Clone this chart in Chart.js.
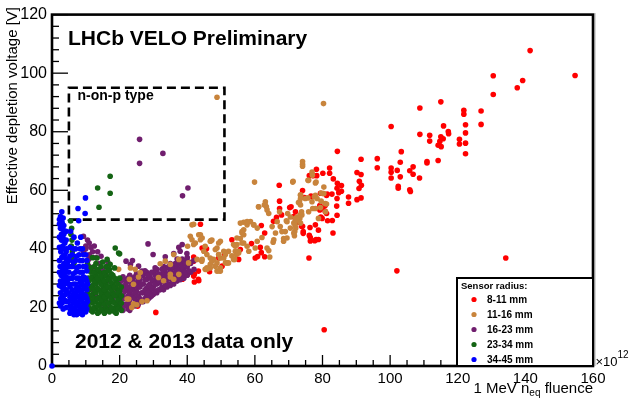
<!DOCTYPE html>
<html><head><meta charset="utf-8">
<script src="https://cdn.jsdelivr.net/npm/chart.js@4"></script>
<style>html,body{margin:0;padding:0;background:#fff}#wrap{width:630px;height:398px;position:relative}</style>
</head><body><div id="wrap"><canvas id="c" width="630" height="398"></canvas></div>
<script>
// ---------- DATA (fluence in 1e12, depletion voltage in V) ----------
const seriesLabels = ['8-11 mm','11-16 mm','16-23 mm','23-34 mm','34-45 mm'];
const legendTitle = 'Sensor radius:';
const xTickValues = [0,20,40,60,80,100,120,140,160];
const yTickValues = [0,20,40,60,80,100,120];

const radius8to11 = [
[141.4,107.7],[154.7,99.2],[130.5,99.1],[139.2,97.5],[137.6,95.0],[130.5,92.7],[115.0,90.2],[108.8,88.1],[121.8,87.3],[121.8,86.0],[126.9,87.1],[122.3,82.4],[126.9,82.5],[115.8,82.0],[117.2,80.1],[117.3,79.3],[122.3,79.6],[108.8,79.1],[111.7,78.8],[111.7,76.8],[115.0,78.3],[115.7,77.6],[114.7,76.7],[114.2,75.4],[115.1,74.9],[120.5,77.4],[120.5,75.8],[122.3,76.1],[122.3,72.5],[103.3,73.2],[103.0,69.6],[106.8,68.0],[110.9,69.8],[110.9,69.3],[114.2,70.2],[105.8,66.7],
[100.3,81.8],[84.4,73.3],[91.4,70.6],[96.2,70.8],[96.2,67.7],[100.3,67.6],[100.3,66.2],[100.3,64.2],[102.1,66.8],[103.0,64.6],[106.8,65.5],[108.7,64.2],[102.4,61.4],[102.4,60.7],[105.8,60.2],[106.0,59.6],[90.2,66.1],[91.4,65.4],[90.9,63.1],[91.5,61.7],[90.8,60.6],[91.4,57.4],[90.2,56.8],[87.7,57.7],[87.7,55.6],[82.1,67.6],[82.1,65.8],[78.2,67.2],[80.1,65.8],[76.1,65.0],[77.2,65.0],[78.3,65.0],[83.2,63.9],[84.4,62.4],[85.6,61.6],[84.3,60.7],[85.6,59.7],[84.8,59.2],[74.1,59.9],[82.8,58.7],[81.2,58.2],[84.3,57.2],[76.9,57.7],[79.2,54.8],[80.8,54.8],[79.2,53.3],[80.1,54.0],[84.2,54.6],[84.3,51.5],[81.2,52.1],[80.8,52.8],[79.9,50.4],[82.9,49.7],[77.9,48.2],[78.8,46.4],[76.3,47.3],[74.1,47.7],[74.3,45.9],[74.3,45.3],[76.1,44.6],[76.4,43.9],[78.1,43.2],[78.8,43.2],[83.1,45.4],[70.7,54.4],[72.0,52.7],[71.5,51.0],[72.5,49.0],
[134.2,36.9],[102.0,32.5],[80.5,12.4],
[67.2,61.7],[67.3,56.3],[74.7,57.5],[76.6,58.0],[79.4,59.0],[81.4,58.7],[70.3,54.1],[73.8,47.7],[79.5,50.9],[81.5,49.6],[77.7,42.8],[76.4,42.7],[76.0,36.9],[66.4,50.8],[65.5,49.4],[61.9,48.0],[62.9,45.4],[61.6,40.5],[61.9,38.7],[62.9,37.3],[60.8,37.4],[59.0,41.8],[43.9,48.4],[44.4,40.3],[45.7,40.0],[46.6,32.2],[45.1,39.2],[41.9,37.2],[41.9,35.8],[39.4,31.9],[40.1,31.3],[42.1,31.3],[43.4,29.1],[42.1,28.7],[38.6,29.6],[51.1,38.6],[51.1,38.1],[30.7,18.3],[25.3,20.4],[43.3,32.4],[41.9,30.7],[43.3,29.6],[67.3,53.8],[67.9,51.6],[60.1,36.9],
[53.2,43.1],[55.7,39.8],[55.2,36.4],[49.3,36.9],[50.3,34.1]
];

const radius11to16 = [
[48.8,91.8],[80.3,89.6],[59.9,62.8],[71.3,63.1],
[74.1,69.8],[74.1,68.9],[74.1,68.2],[76.9,66.2],[77.0,65.1],[75.9,63.4],[77.9,62.5],[80.4,61.1],[73.5,58.5],[79.6,59.1],[80.4,58.9],[75.7,57.4],[77.6,57.8],[73.2,56.1],[77.1,53.8],[79.6,56.3],[80.8,55.5],[73.8,52.7],[73.4,51.6],[73.3,50.4],[72.4,49.9],[71.9,49.3],[71.5,48.8],[72.1,47.1],[71.7,44.5],
[71.2,62.8],[75.7,63.4],[78.1,62.8],[73.5,58.3],[73.5,57.2],[72.9,55.8],[77.9,58.3],[80.2,58.9],[81.2,55.3],[79.4,54.1],[80.9,52.7],[78.8,50.4],[63.1,56.1],[62.8,55.0],[63.4,54.4],[61.1,54.4],[64.1,52.1],[69.7,52.1],[70.5,50.9],[69.3,49.6],[72.5,50.9],[71.9,48.2],[69.0,45.9],[68.0,45.9],[71.8,45.9],[66.1,45.4],[65.4,42.3],[68.5,43.5],[63.6,40.3],[64.1,39.4],[64.4,37.2],[56.7,49.1],[57.7,48.2],[58.7,49.3],[59.7,48.2],[60.7,47.1],[56.2,45.9],[56.7,44.8],[55.7,43.5],[56.7,42.0],[57.7,40.9],[58.2,39.2],[54.7,41.5],[54.2,39.2],[54.5,38.1],[54.0,36.4],[60.7,42.6],[60.1,40.3],[62.1,43.9],[49.8,42.6],[48.8,40.3],[50.8,39.2],[49.8,36.9],[51.3,35.2],[47.3,43.0],[44.9,39.2],[45.8,38.1],[44.3,35.8],[47.8,36.4],[46.8,34.7],[48.3,34.1],[45.8,33.5],[45.3,33.0],
[41.9,48.4],[40.9,44.3],[43.4,44.8],[43.9,43.1],[42.4,42.0],[40.1,40.9],[52.2,39.2],[50.8,36.9],[49.3,38.1],[47.3,35.8],[46.8,33.5],[49.8,33.5],[48.8,32.4],[33.5,35.8],[32.0,34.9],[37.5,31.3],[35.0,30.4],[28.1,22.3],[26.6,22.0],[24.1,21.2],[22.7,22.9],[19.7,33.0],[18.4,26.8],[19.2,27.4],[40.4,35.2],[42.9,36.4],
[61.1,54.4],[63.1,55.0],[63.6,53.3],[55.7,48.8],[57.7,49.3],[59.6,48.2],[56.7,46.5],[54.7,43.7],[53.7,41.5],[55.2,39.2],[41.4,48.2],[43.9,44.8],[41.9,41.5],[49.3,38.1],[51.3,38.1],[51.8,35.2],[49.8,32.4],[47.0,42.8],[36.0,38.1],[37.5,36.4],[35.0,34.7],[23.2,33.5],[24.6,33.0],[26.1,31.9],[25.6,30.4],[22.9,29.6],[24.1,27.9],[22.2,22.9],[23.6,20.0],[25.1,20.9],[31.5,30.2],[33.0,29.1],[35.0,31.3],[36.0,29.6],
[69.5,43.7],[71.5,45.4],[70.5,47.1],[73.5,48.8],[72.0,50.4],[73.9,51.6],[75.9,52.7],[77.9,53.8],[73.5,55.0],[76.9,56.1],[78.4,57.2],[74.9,57.2],[65.6,43.1],[68.5,42.6],[67.3,52.7],[66.6,49.3],[65.1,47.6],[67.5,47.6],[69.5,49.3],
[41.4,43.1],[44.4,43.7],[46.8,42.6],[49.3,42.0],[45.3,40.9],[48.3,39.8],[51.3,38.6],[46.8,36.9],[44.4,36.4],[48.8,35.2],[52.2,35.2],[45.8,33.0],[49.3,32.5],[53.2,37.6],[54.2,40.9],[56.2,42.0],[56.2,45.4],[55.2,38.6],[53.7,36.4]
];

const radius16to23 = [
[25.9,77.4],[25.9,69.2],[32.8,72.6],[40.2,60.8],[38.6,58.1],
[28.4,41.7],[29.9,38.1],[33.5,37.3],[36.0,38.4],[37.9,39.2],[37.5,40.5],[38.5,41.5],[39.9,38.4],[23.2,34.7],[23.8,36.0],[21.9,35.8],[26.6,32.4],[25.6,34.1],[33.0,31.3],[36.5,31.3],[9.3,44.3],[9.3,39.2],[10.8,36.4],[12.3,33.5],[11,42],[10,41],
[13,24],[14,21],[15,19.5],[16,22],[17,20],[18,23],[19,20],[20,21.5],[19,25],[20,28],[21,19],[21,24],[21,30.5],[22,20.5],[22,26],[22,28.5],[23,19],[23,22.5],[23,25],[23,31],[24,24],[24,26.5],[24,29],[25,22],[25,25.5],[25,28],[25,31.5],[26,23],[26,27],[26,29.5],[27,22],[27,25],[27,28],[27,31],[28,24],[28,26.5],[28,29.5],[28,32],[29,23.5],[29,25.5],[29,28],[29,30.5],[30,24.5],[30,27],[30,29],[30,32],[31,25],[31,28],[31,30],[31,33],[32,26],[32,28.5],[32,31],[33,26],[33,29],[33,32],[33,34],[34,27],[34,29.5],[34,31.5],[35,27.5],[35,30],[35,32.5],[35,35],[36,28],[36,30.5],[36,33.5],[37,29],[37,31],[37,34],[37,36.5],[38,29.5],[38,32],[38,35],[39,30],[39,33],[39,36],[40,31],[40,34],[40,37],[41,32],[41,35],[42,33],[42,36],
[18.5,19],[19.5,22],[20.5,26],[18,27],[17,29],[16,31],[15,33],[14,35],[13,37],[12,39],[11,38],[10,40],[11,34],[12,30],[12,26],[13,28],[14,30],[15,26],[16,26.5],[17,24.5],[18,25.5],
[19.5,21],[19.5,24],[19.5,27],[20.5,20],[20.5,23],[20.5,29],[21.5,21],[21.5,23],[21.5,25.5],[21.5,27.5],[21.5,29.5],[22.5,19.5],[22.5,21.5],[22.5,24],[22.5,27],[22.5,30],[23.5,21],[23.5,23.5],[23.5,26],[23.5,28],[23.5,30],[24.5,20.5],[24.5,23],[24.5,25],[24.5,27.5],[24.5,30.5],[25.5,21],[25.5,24],[25.5,27],[25.5,29],[25.5,30.5],[26.5,22],[26.5,25],[26.5,28],[26.5,31],[27.5,23],[27.5,26],[27.5,29.5],[27.5,32.5],[28.5,23],[28.5,25],[28.5,27.5],[28.5,31],[29.5,24],[29.5,26.5],[29.5,29.5],[29.5,32],[30.5,25.5],[30.5,28],[30.5,31],[30.5,33.5],[31.5,26],[31.5,29],[31.5,31.5],[32.5,27],[32.5,30],[32.5,33],[33.5,27.5],[33.5,30.5],[33.5,33],[34.5,28],[34.5,31],[34.5,34],[35.5,29],[35.5,31.5],[35.5,34],[36.5,29.5],[36.5,32],[36.5,35],[37.5,30],[37.5,33],[37.5,35.5],[38.5,31],[38.5,34],[38.5,36.5],[39.5,32],[39.5,35],[40.5,32.5],[40.5,35.5],
[10.5,43],[11.5,40.5],[12.5,41],[13.5,39],[14.5,37.5],[16.5,35.5]
];

const radius23to34 = [
[13.5,60.8],[17.2,64.8],[17.2,59.0],[13.9,54.2],
[5.5,49.5],[5.8,47],[5.6,45],[5.9,43],[5.7,41],[6,39],[6.2,37],[6.5,35],
[18.7,40.3],[19.7,38.6],[16.3,36.4],[17.2,34.7],[13.3,36.9],[20.0,38.3],[18.5,19.5],
[11,20],[11,23],[11,26],[11,29],[11.5,32],[12,18.5],[12,21.5],[12,24.5],[12,27.5],[12,30.5],[12.5,34],[13,19.5],[13,22],[13,25],[13,28],[13,31],[13,35],[14,18.5],[14,21],[14,23.5],[14,26],[14,29],[14,32],[15,19],[15,22],[15,24.5],[15,27.5],[15,30],[16,20],[16,23],[16,25.5],[16,28],[16,31],[17,18.5],[17,21.5],[17,24],[17,27],[17,30],[17,33],[18,19.5],[18,22],[18,25],[18,28],[18,31],[18.5,33.5],[19,18],[19,21],[19,24],[19,26.5],[19,29],[20,20],[20,23],[20,25.5],[20,30],[20.5,27],[10.5,35],[10.8,30],[10.5,25],[10.5,21],[12,37],[16,34],[15,35.5],
[11.5,19],[11.5,22],[11.5,24],[11.5,27],[11.5,30],[11.5,33.5],[12.5,20],[12.5,23],[12.5,26],[12.5,29],[12.5,32],[13.5,18],[13.5,20.5],[13.5,23],[13.5,26.5],[13.5,30],[13.5,33],[14.5,19.5],[14.5,22.5],[14.5,25],[14.5,28],[14.5,31],[14.5,34],[15.5,18],[15.5,21],[15.5,23.5],[15.5,26],[15.5,29],[15.5,32],[16.5,19],[16.5,21.5],[16.5,24.5],[16.5,27],[16.5,29.5],[16.5,32.5],[17.5,20],[17.5,23],[17.5,26],[17.5,28.5],[17.5,31.5],[18.5,18.5],[18.5,21.5],[18.5,24],[18.5,27],[18.5,30],[19.5,19.5],[19.5,22.5],[19.5,25],[19.5,28],[20.5,19],[20.5,21.5],[20.5,24]
];

const radius34to45 = [
[0,0],[9.9,57.4],[7.7,53.8],[2.9,52.7],[9.8,52.1],[7.9,49.6],
[2.5,51],[3,49],[2.5,47],[3.5,45],[2.8,43],[3.2,41],[2.6,39],[3.8,38],[2.9,37],[3.5,35],[2.4,34],[3.2,33],[4,32],[2.7,31],[3.5,30],[2.5,29],[3.8,28],[2.9,27],[3.4,26],[2.5,25],[4,24.5],[3,24],[2.6,23],[3.7,22.5],[3,21.5],[2.5,20.5],[4.2,20],[3.5,26.5],[4.5,29],[4.5,35],[4.3,40],[3.5,48],[2.8,45],[3.8,42],
[5,36],[5,32],[5,28],[5,25],[5,22],[5.5,19],[6,38],[6,34],[6,30],[6,26],[6,23],[6,20],[6.5,17.5],[7,40],[7,36],[7,32],[7,28],[7,25],[7,22],[7,19],[8,38],[8,34],[8,30],[8,27],[8,24],[8,21],[8,18],[9,40],[9,36],[9,32],[9,29],[9,26],[9,23],[9,20],[9,17.5],[10,38],[10,34],[10,30],[10,27],[10,24],[10,21],[10,18.5],[10.5,28],[10.5,22],[7.5,42],[8.5,44],[6.5,44],[5.5,46],
[2.2,21.5],[2.2,27.5],[2.2,32],[2.2,36],[2.2,40.5],[2.2,44],[2.2,48.5],[2.2,50],[3.3,19.5],[3.3,23],[3.3,28.5],[3.3,31.5],[3.3,34],[3.3,37.5],[3.3,40],[3.3,43.5],[3.3,46.5],[3.3,50.5],[4.2,22],[4.2,26],[4.2,30.5],[4.2,33.5],[4.2,36.5],[4.2,39],[4.2,43],[4.2,46],
[5.3,18],[5.3,20.5],[5.3,23.5],[5.3,27],[5.3,30],[5.3,34],[5.3,37.5],[5.3,40.5],[6.3,18.5],[6.3,21.5],[6.3,24.5],[6.3,28],[6.3,31.5],[6.3,35.5],[6.3,40],[7.3,17.5],[7.3,20.5],[7.3,23.5],[7.3,26.5],[7.3,30],[7.3,33.5],[7.3,37.5],
[8.3,19.5],[8.3,22.5],[8.3,25.5],[8.3,28.5],[8.3,32],[8.3,36],[8.3,40],[9.3,18.5],[9.3,21.5],[9.3,24.5],[9.3,27.5],[9.3,30.5],[9.3,34],[9.3,38],[10.3,19.5],[10.3,23],[10.3,26],[10.3,29],[10.3,32.5],[10.3,36]
];

// ---------- STYLE ----------
const seriesList = [radius8to11, radius11to16, radius16to23, radius23to34, radius34to45];
const seriesColors = ['#ff0000','#c8843c','#701e6e','#146414','#0000ff'];
const drawOrder = [5,3,4,2,1];
const FONT = "'Liberation Sans', Arial, Helvetica, sans-serif";

const overlay = {
  id:'overlay',
  beforeDatasetsDraw(chart){
    const {ctx, chartArea:a, scales:{x,y}} = chart;
    ctx.save();
    ctx.strokeStyle='#000';
    ctx.lineWidth=1.3;
    for(let v=0; v<=120; v+=4){
      const py=y.getPixelForValue(v); const len = v%20===0?16:7;
      ctx.beginPath(); ctx.moveTo(a.left,py); ctx.lineTo(a.left+len,py); ctx.stroke();
    }
    for(let v=0; v<=160; v+=5){
      const px=x.getPixelForValue(v); const len = v%20===0?11:6;
      ctx.beginPath(); ctx.moveTo(px,a.bottom); ctx.lineTo(px,a.bottom-len); ctx.stroke();
    }
    ctx.strokeStyle='#bbb'; ctx.lineWidth=1.2;
    ctx.beginPath(); ctx.moveTo(a.right+2,a.top-1.5); ctx.lineTo(a.right+2,a.bottom); ctx.stroke();
    ctx.strokeStyle='#000'; ctx.lineWidth=2.6;
    ctx.strokeRect(a.left,a.top,a.right-a.left,a.bottom-a.top);
    ctx.lineWidth=2.6; ctx.setLineDash([9,5]);
    const bx0=x.getPixelForValue(5), bx1=x.getPixelForValue(51), by0=y.getPixelForValue(95), by1=y.getPixelForValue(50);
    ctx.strokeRect(bx0,by0,bx1-bx0,by1-by0);
    ctx.setLineDash([]);
    ctx.restore();
  },
  afterDatasetsDraw(chart){
    const {ctx, chartArea:a} = chart;
    ctx.save();
    ctx.fillStyle='#000';
    ctx.textBaseline='alphabetic';
    ctx.textAlign='left';
    ctx.font="bold 21px "+FONT;
    ctx.fillText('LHCb VELO Preliminary',68,44.5);
    ctx.fillText('2012 & 2013 data only',75,347.5);
    ctx.font="bold 14px "+FONT;
    ctx.fillText('n-on-p type',77.5,99.5);
    ctx.save();
    ctx.translate(16.5,7); ctx.rotate(-Math.PI/2);
    ctx.textAlign='right'; ctx.font="15px "+FONT;
    ctx.fillText('Effective depletion voltage [V]',0,0);
    ctx.restore();
    const big="15px "+FONT, small="10px "+FONT;
    ctx.font=big; const w1=ctx.measureText('1 MeV n').width, w3=ctx.measureText(' fluence').width;
    ctx.font=small; const w2=ctx.measureText('eq').width;
    let sx=a.right-(w1+w2+w3); const by=392.5;
    ctx.font=big; ctx.fillText('1 MeV n',sx,by);
    ctx.font=small; ctx.fillText('eq',sx+w1,by+3.5);
    ctx.font=big; ctx.fillText(' fluence',sx+w1+w2,by);
    ctx.font="13px "+FONT; const we=ctx.measureText('\u00d710').width;
    ctx.fillText('\u00d710',a.right+2.5,365.5);
    ctx.font="10px "+FONT; ctx.fillText('12',a.right+2.5+we,357.5);
    const lx0=457, ly0=278, lx1=a.right, ly1=a.bottom;
    ctx.fillStyle='#fff'; ctx.fillRect(lx0,ly0,lx1-lx0,ly1-ly0);
    ctx.strokeStyle='#000'; ctx.lineWidth=2; ctx.strokeRect(lx0,ly0,lx1-lx0,ly1-ly0);
    ctx.fillStyle='#000'; ctx.font="bold 9.5px "+FONT;
    ctx.fillText(legendTitle,461,288.5);
    ctx.font="bold 10px "+FONT;
    seriesLabels.forEach((lab,i)=>{
      const cy=299.5+i*15;
      ctx.fillStyle=seriesColors[i];
      ctx.beginPath(); ctx.arc(474,cy,2.6,0,Math.PI*2); ctx.fill();
      ctx.fillStyle='#000'; ctx.textBaseline='middle';
      ctx.fillText(lab,487,cy+0.5);
    });
    ctx.restore();
  }
};

new Chart(document.getElementById('c').getContext('2d'), {
  type:'scatter',
  data:{ datasets: seriesList.map((s,i)=>({
    label: seriesLabels[i],
    data: s.map(p=>({x:p[0],y:p[1]})),
    backgroundColor: seriesColors[i], borderColor: seriesColors[i],
    borderWidth:0, pointRadius:2.8, pointHoverRadius:2.8,
    order: drawOrder[i], clip:false
  }))},
  options:{
    responsive:false, animation:false, devicePixelRatio:1,
    layout:{padding:{top:11,right:37,left:0,bottom:0}},
    plugins:{legend:{display:false}, tooltip:{enabled:false}},
    scales:{
      x:{ type:'linear', min:0, max:160,
        afterFit(s){ s.height=32; },
        afterBuildTicks(s){ s.ticks = xTickValues.map(v=>({value:v})); },
        grid:{display:false, drawTicks:false}, border:{display:false},
        ticks:{ font:{family:FONT,size:15}, color:'#000', padding:4, maxRotation:0, autoSkip:false }
      },
      y:{ type:'linear', min:0, max:120,
        afterFit(s){ s.width=52; },
        afterBuildTicks(s){ s.ticks = yTickValues.map(v=>({value:v})); },
        grid:{display:false, drawTicks:false}, border:{display:false},
        ticks:{ font:{family:FONT,size:16}, color:'#000', padding:5, autoSkip:false }
      }
    }
  },
  plugins:[overlay]
});
</script></body></html>
